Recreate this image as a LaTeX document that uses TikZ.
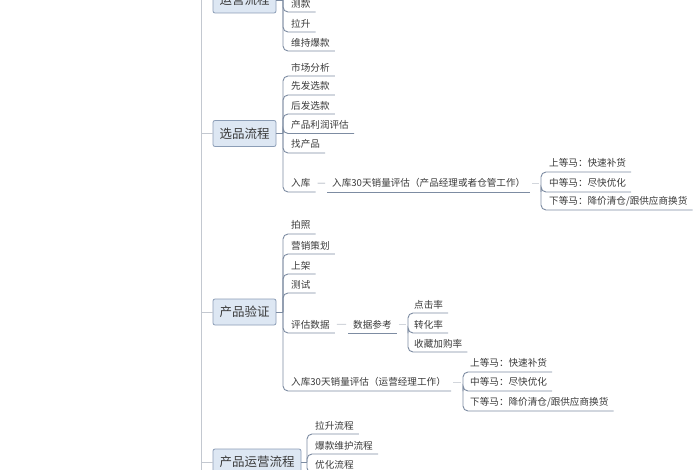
\documentclass[tikz,border=0pt]{standalone}
\usepackage{fontspec}
\setmainfont{Noto Sans CJK SC}
\usepackage{tikz}

\definecolor{boxfill}{HTML}{DDE7F3}
\definecolor{boxline}{HTML}{8B9DB6}
\definecolor{edge}{HTML}{7D8CA2}
\definecolor{spinegray}{HTML}{C3C8D0}
\definecolor{linkgray}{HTML}{D2D6DC}
\definecolor{txt}{HTML}{3A3A3A}

\tikzset{
    rootbox/.style={draw=boxline, fill=boxfill, rounded corners=2pt, line width=0.8pt,
        inner xsep=6.5pt, minimum height=26pt, font=\fontsize{12.5}{14}\selectfont, text=txt},
    leaf/.style={anchor=south west, inner xsep=5pt, inner ysep=4pt,
        font=\fontsize{9.6}{11}\selectfont, text=txt},
    branch/.style={draw=edge, line width=0.9pt, rounded corners=5pt},
    spine/.style={draw=spinegray, line width=1pt},
    link/.style={draw=linkgray, line width=1.2pt, shorten <=2pt, shorten >=2pt},
}

\begin{document}
\begin{tikzpicture}[x=1pt, y=-1pt]
    \useasboundingbox[fill=white] (0,0) rectangle (700,470);

    % spine
    \coordinate (top) at (201,0);
    \coordinate (bot) at (201,470);
    \draw[spine] (top) -- (bot);

    % roots
    \node[rootbox] (yunying) at (244.5,0) {运营流程};
    \node[rootbox] (xuanpin) at (244.5,133.5) {选品流程};
    \node[rootbox] (yanzheng) at (244.5,312) {产品验证};
    \node[rootbox] (chanpin) at (257,462) {产品运营流程};
    \draw[spine] (top |- yunying.west) -- (yunying.west);
    \draw[spine] (top |- xuanpin.west) -- (xuanpin.west);
    \draw[spine] (top |- yanzheng.west) -- (yanzheng.west);
    \draw[spine] (top |- chanpin.west) -- (chanpin.west);

    % 运营流程
    \coordinate (yyb) at (283,0);
    \node[leaf] (yy1) at (286,12) {测款};
    \node[leaf] (yy2) at (286,32) {拉升};
    \node[leaf] (yy3) at (286,51) {维持爆款};
    \draw[branch] (yunying.east) -- (yyb);
    \draw[branch] (yyb) |- (yy1.south east);
    \draw[branch] (yyb) |- (yy2.south east);
    \draw[branch] (yyb) |- (yy3.south east);

    % 选品流程
    \coordinate (xpb) at (283,133.5);
    \node[leaf] (xp1) at (286,76) {市场分析};
    \node[leaf] (xp2) at (286,95) {先发选款};
    \node[leaf] (xp3) at (286,114) {后发选款};
    \node[leaf] (xp4) at (286,133.5) {产品利润评估};
    \node[leaf] (xp5) at (286,153) {找产品};
    \node[leaf] (xp6) at (286,192) {入库};
    \draw[branch] (xuanpin.east) -- (xpb);
    \draw[branch] (xpb) |- (xp1.south east);
    \draw[branch] (xpb) |- (xp2.south east);
    \draw[branch] (xpb) |- (xp3.south east);
    \draw[branch] (xpb) |- (xp4.south east);
    \draw[branch] (xpb) |- (xp5.south east);
    \draw[branch] (xpb) |- (xp6.south east);

    \node[leaf] (xp7) at (327,192) {入库30天销量评估（产品经理或者仓管工作）};
    \draw[link] (xp6.east) -- (xp7.west);
    \draw[branch] (xp7.south west) -- (xp7.south east);

    \coordinate (xpc) at (541,192);
    \node[leaf] (xp8) at (544,172) {上等马：快速补货};
    \node[leaf] (xp9) at (544,192) {中等马：尽快优化};
    \node[leaf] (xp10) at (544,210) {下等马：降价清仓/跟供应商换货};
    \draw[link] (xp7.east) -- (xpc |- xp7.east);
    \draw[branch] (xpc) |- (xp8.south east);
    \draw[branch] (xpc) |- (xp9.south east);
    \draw[branch] (xpc) |- (xp10.south east);

    % 产品验证
    \coordinate (yzb) at (283,312);
    \node[leaf] (yz1) at (286,234) {拍照};
    \node[leaf] (yz2) at (286,254) {营销策划};
    \node[leaf] (yz3) at (286,274) {上架};
    \node[leaf] (yz4) at (286,293) {测试};
    \node[leaf] (yz5) at (286,333) {评估数据};
    \node[leaf] (yz6) at (286,391) {入库30天销量评估（运营经理工作）};
    \draw[branch] (yanzheng.east) -- (yzb);
    \draw[branch] (yzb) |- (yz1.south east);
    \draw[branch] (yzb) |- (yz2.south east);
    \draw[branch] (yzb) |- (yz3.south east);
    \draw[branch] (yzb) |- (yz4.south east);
    \draw[branch] (yzb) |- (yz5.south east);
    \draw[branch] (yzb) |- (yz6.south east);

    \node[leaf] (yz7) at (348,333) {数据参考};
    \draw[link] (yz5.east) -- (yz7.west);
    \draw[branch] (yz7.south west) -- (yz7.south east);

    \coordinate (yzc) at (408,333);
    \node[leaf] (yz8) at (409,313) {点击率};
    \node[leaf] (yz9) at (409,333) {转化率};
    \node[leaf] (yz10) at (409,352) {收藏加购率};
    \draw[link] (yz7.east) -- (yzc |- yz7.east);
    \draw[branch] (yzc) |- (yz8.south east);
    \draw[branch] (yzc) |- (yz9.south east);
    \draw[branch] (yzc) |- (yz10.south east);

    \coordinate (yzd) at (463,391);
    \node[leaf] (yz11) at (465,372) {上等马：快速补货};
    \node[leaf] (yz12) at (465,391) {中等马：尽快优化};
    \node[leaf] (yz13) at (465,411) {下等马：降价清仓/跟供应商换货};
    \draw[link] (yz6.east) -- (yzd |- yz6.east);
    \draw[branch] (yzd) |- (yz11.south east);
    \draw[branch] (yzd) |- (yz12.south east);
    \draw[branch] (yzd) |- (yz13.south east);

    % 产品运营流程
    \coordinate (cpb) at (307,462);
    \node[leaf] (cp1) at (310,434) {拉升流程};
    \node[leaf] (cp2) at (310,454) {爆款维护流程};
    \node[leaf] (cp3) at (310,473) {优化流程};
    \draw[branch] (chanpin.east) -- (cpb);
    \draw[branch] (cpb) |- (cp1.south east);
    \draw[branch] (cpb) |- (cp2.south east);
    \draw[branch] (cpb) |- (cp3.south east);
\end{tikzpicture}
\end{document}
